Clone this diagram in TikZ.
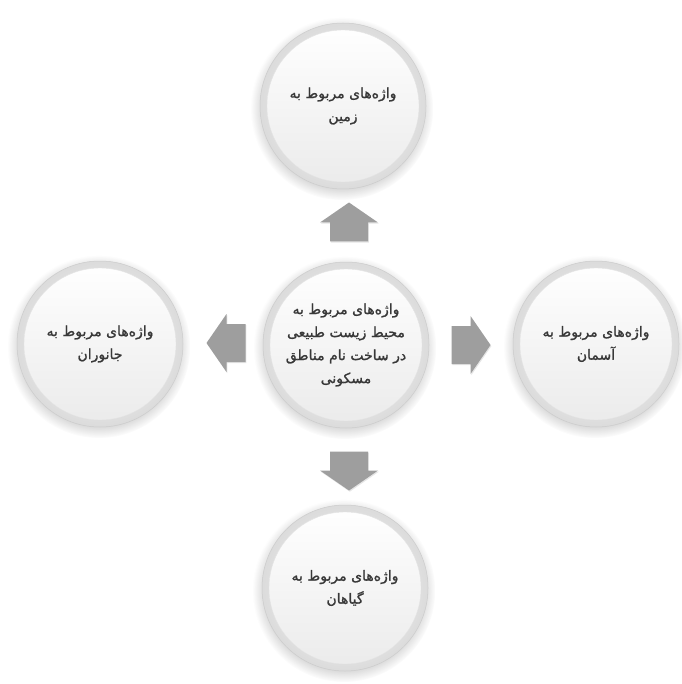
\documentclass[tikz,border=0pt]{standalone}
\usepackage{fontspec}
\newfontfamily\arabicfont[Script=Arabic,FakeBold=1.2]{DejaVu Sans}
\TeXXeTstate=1
\usetikzlibrary{shadows}
\begin{document}
\begin{tikzpicture}[x=1pt,y=-1pt]
\useasboundingbox[fill=white] (0,0) rectangle (681,684);
\tikzset{
  bubble/.style={circle, minimum size=166pt, inner sep=0pt, align=center,
    font=\arabicfont\fontsize{14}{23}\selectfont, text=black!78,
    shading=radial, inner color=white, outer color=gray!28,
    draw=gray!40, line width=0.5pt,
    circular drop shadow={shadow xshift=-1pt, shadow yshift=-2.5pt, opacity=0.3, fill=black!55},
    path picture={
      \shade[top color=white, bottom color=gray!16, draw=gray!22, line width=0.4pt]
        (path picture bounding box.center) circle (76pt);}},
  blockarrow/.pic={
    \fill[black!38, drop shadow={shadow xshift=0.8pt, shadow yshift=-1.2pt, opacity=0.2}]
      (0,-19.5) -- (29,0.5) -- (19,0.5) -- (19,19.5) -- (-19,19.5) -- (-19,0.5) -- (-29,0.5) -- cycle;}
}
\node[bubble] (c) at (346,345) {\beginR واژه‌های مربوط به\endR\\\beginR محیط زیست طبیعی\endR\\\beginR در ساخت نام مناطق\endR\\\beginR مسکونی\endR};
\node[bubble] (t) at (343,106) {\beginR واژه‌های مربوط به\endR\\\beginR زمین\endR};
\node[bubble] (b) at (345,588) {\beginR واژه‌های مربوط به\endR\\\beginR گیاهان\endR};
\node[bubble] (l) at (100,344) {\beginR واژه‌های مربوط به\endR\\\beginR جانوران\endR};
\node[bubble] (r) at (596,344) {\beginR واژه‌های مربوط به\endR\\\beginR آسمان\endR};
\pic[rotate=0] (au) at (349,222) {blockarrow};
\pic[rotate=180] (ad) at (349,471) {blockarrow};
\pic[rotate=90] (al) at (226,343) {blockarrow};
\pic[rotate=-90] (ar) at (471,345) {blockarrow};
\end{tikzpicture}
\end{document}
